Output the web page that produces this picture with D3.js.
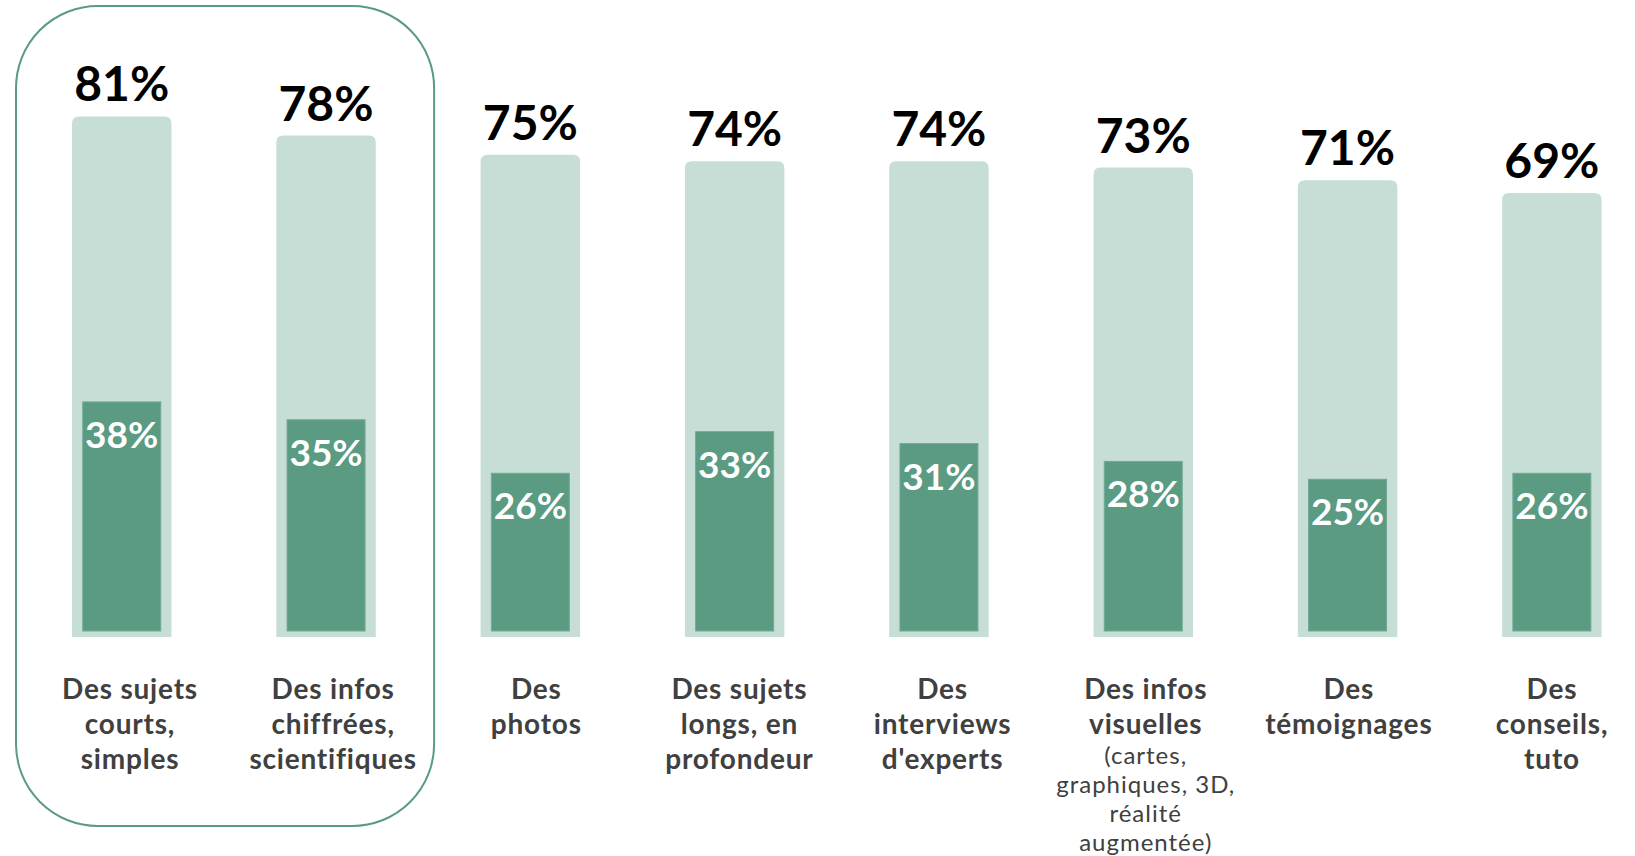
<!DOCTYPE html>
<html lang="fr">
<head>
    <meta charset="UTF-8">
    <title>Formats préférés</title>
    <script src="https://cdnjs.cloudflare.com/ajax/libs/d3/7.8.5/d3.min.js"></script>
    <style>
        body { margin: 0; background: #fff; }
        svg { display: block; }
    </style>
</head>
<body>
    <script>
        // données
        const categories = ['sujets_courts', 'infos_chiffrees', 'photos', 'sujets_longs', 'interviews', 'infos_visuelles', 'temoignages', 'conseils']
        const labelLines = [
            ['Des sujets', 'courts,', 'simples'],
            ['Des infos', 'chiffrées,', 'scientifiques'],
            ['Des', 'photos'],
            ['Des sujets', 'longs, en', 'profondeur'],
            ['Des', 'interviews', "d'experts"],
            ['Des infos', 'visuelles'],
            ['Des', 'témoignages'],
            ['Des', 'conseils,', 'tuto']
        ]
        const subLines = [[], [], [], [], [], ['(cartes,', 'graphiques, 3D,', 'réalité', 'augmentée)'], [], []]
        const totalValues = [81, 78, 75, 74, 74, 73, 71, 69]
        const coreValues = [38, 35, 26, 33, 31, 28, 25, 26]
        const highlighted = ['sujets_courts', 'infos_chiffrees']

        const width = 1635
        const height = 856
        const lightColor = '#c6ded6'
        const darkColor = '#5a9b82'
        const textColor = '#404040'
        const font = 'Lato, "Open Sans", sans-serif'

        const svg = d3.select('body')
            .append('svg')
                .attr('width', width)
                .attr('height', height)
                .attr('viewBox', `0 0 ${width} ${height}`)

        // échelles
        const xScale = d3.scaleBand()
            .domain(categories)
            .range([72, 1601.6])
            .paddingInner(0.513)
            .paddingOuter(0)

        const xLabel = d3.scalePoint()
            .domain(categories)
            .range([130, 1552])

        const yTotal = d3.scaleLinear()
            .domain([0, 100])
            .range([634, -5])

        const yCore = d3.scaleLinear()
            .domain([0, 100])
            .range([628, 33])

        const totalBottom = 637
        const coreBottom = 631
        const coreWidth = 78

        const data = categories.map((c, i) => ({
            key: c,
            total: totalValues[i],
            core: coreValues[i],
            lines: labelLines[i],
            sub: subLines[i]
        }))

        // cadre arrondi autour des deux premières colonnes
        const hx0 = xLabel(highlighted[0]) - 114
        const hx1 = xLabel(highlighted[highlighted.length - 1]) + 101
        svg.append('rect')
            .attr('x', hx0)
            .attr('y', 6)
            .attr('width', hx1 - hx0)
            .attr('height', 820)
            .attr('rx', 82)
            .attr('ry', 82)
            .attr('fill', 'none')
            .attr('stroke', darkColor)
            .attr('stroke-width', 2)

        const topRounded = (x, y, w, h, r) =>
            `M${x},${y + h}V${y + r}Q${x},${y} ${x + r},${y}H${x + w - r}Q${x + w},${y} ${x + w},${y + r}V${y + h}Z`

        const cols = svg.selectAll('g.col')
            .data(data)
            .join('g')
                .attr('class', 'col')

        // barres claires (total)
        cols.append('path')
            .attr('d', d => {
                const y = yTotal(d.total)
                return topRounded(xScale(d.key), y, xScale.bandwidth(), totalBottom - y, 7)
            })
            .attr('fill', lightColor)

        // barres foncées
        cols.append('rect')
            .attr('x', d => xScale(d.key) + (xScale.bandwidth() - coreWidth) / 2)
            .attr('y', d => yCore(d.core))
            .attr('width', coreWidth)
            .attr('height', d => coreBottom - yCore(d.core))
            .attr('fill', darkColor)
            .attr('stroke', '#72ab95')
            .attr('stroke-width', 1)

        // valeurs au-dessus
        cols.append('text')
            .attr('x', d => xScale(d.key) + xScale.bandwidth() / 2)
            .attr('y', d => yTotal(d.total) - 15)
            .attr('text-anchor', 'middle')
            .attr('font-family', font)
            .attr('font-weight', 700)
            .attr('font-size', 48)
            .attr('fill', '#000')
            .text(d => `${d.total}%`)

        // valeurs dans les barres foncées
        cols.append('text')
            .attr('x', d => xScale(d.key) + xScale.bandwidth() / 2)
            .attr('y', d => yCore(d.core) + 46)
            .attr('text-anchor', 'middle')
            .attr('font-family', font)
            .attr('font-weight', 700)
            .attr('font-size', 37)
            .attr('fill', '#fff')
            .text(d => `${d.core}%`)

        // libellés
        const labels = cols.append('text')
            .attr('text-anchor', 'middle')
            .attr('font-family', font)
            .attr('fill', textColor)

        labels.selectAll('tspan.main')
            .data(d => d.lines.map(l => ({ key: d.key, l })))
            .join('tspan')
                .attr('class', 'main')
                .attr('x', d => xLabel(d.key))
                .attr('y', (d, i) => 699 + i * 35)
                .attr('font-weight', 700)
                .attr('font-size', 28)
                .attr('letter-spacing', 0.8)
                .text(d => d.l)

        labels.selectAll('tspan.sub')
            .data(d => d.sub.map(l => ({ key: d.key, l, n: d.lines.length })))
            .join('tspan')
                .attr('class', 'sub')
                .attr('x', d => xLabel(d.key))
                .attr('y', (d, i) => 699 + (d.n - 1) * 35 + 30 + i * 29)
                .attr('font-weight', 400)
                .attr('font-size', 24)
                .attr('letter-spacing', 1)
                .text(d => d.l)
    </script>
</body>
</html>
